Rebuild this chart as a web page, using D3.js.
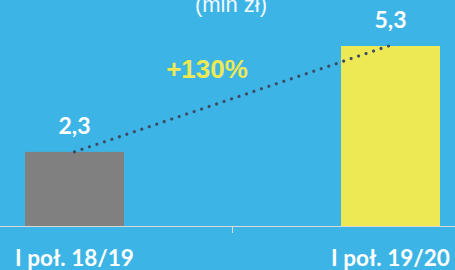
<!DOCTYPE html>
<html>
<head>
<meta charset="utf-8">
<script src="https://cdn.jsdelivr.net/npm/d3@7"></script>
<style>
  html, body { margin: 0; padding: 0; background: #3db4e6; }
  svg { display: block; }
</style>
</head>
<body>
<div class="chart"></div>
<script>
// data
const categories = ['I poł. 18/19', 'I poł. 19/20'];
const values = [2.3, 5.3];
const valueLabels = ['2,3', '5,3'];
const barColors = ['#808080', '#ede955'];
const growthLabel = '+130%';
const unitLabel = '(mln zł)';

const w = 455;
const h = 270;
const baseY = 226;

const svg = d3.select('.chart').append('svg')
  .attr('width', w)
  .attr('height', h);

svg.append('rect')
  .attr('width', w)
  .attr('height', h)
  .attr('fill', '#3db4e6');

let x = d3.scalePoint().domain(categories).range([74.5, 390.5]);
let y = d3.scaleLinear().domain([0.2, 5.3]).range([baseY, 46]);
const barW = 99;

// bars
svg.selectAll('.bar')
  .data(values)
  .enter().append('rect')
  .attr('class', 'bar')
  .attr('x', (d, i) => x(categories[i]) - barW / 2)
  .attr('y', d => y(d))
  .attr('width', barW)
  .attr('height', d => baseY - y(d))
  .attr('fill', (d, i) => barColors[i]);

// axis line + middle tick
svg.append('line')
  .attr('x1', 0).attr('x2', w)
  .attr('y1', baseY + 0.5).attr('y2', baseY + 0.5)
  .attr('stroke', '#d9d9d9')
  .attr('stroke-width', 1);

let midX = (x(categories[0]) + x(categories[1])) / 2;
svg.append('line')
  .attr('x1', midX).attr('x2', midX)
  .attr('y1', baseY).attr('y2', baseY + 7)
  .attr('stroke', '#d9d9d9')
  .attr('stroke-width', 1);

// category labels
svg.selectAll('.cat')
  .data(categories)
  .enter().append('text')
  .attr('class', 'cat')
  .attr('x', d => x(d))
  .attr('y', 266)
  .attr('text-anchor', 'middle')
  .attr('fill', '#ffffff')
  .style('font-family', 'Lato, sans-serif')
  .style('font-weight', 'bold')
  .style('font-size', '22.5px')
  .text(d => d);

// value labels
svg.selectAll('.val')
  .data(values)
  .enter().append('text')
  .attr('class', 'val')
  .attr('x', (d, i) => x(categories[i]))
  .attr('y', d => y(d) - 18)
  .attr('text-anchor', 'middle')
  .attr('fill', '#ffffff')
  .style('font-family', 'Lato, sans-serif')
  .style('font-weight', 'bold')
  .style('font-size', '23px')
  .text((d, i) => valueLabels[i]);

// dotted trend line
let line = d3.line()
  .x((d, i) => x(categories[i]) + (i === 1 ? -2 : 0))
  .y(d => y(d));

let trend = svg.append('path')
  .attr('d', line(values))
  .attr('fill', 'none')
  .attr('stroke', '#3e4a63')
  .attr('stroke-width', 3.2)
  .attr('stroke-linecap', 'round');

// spread the dots so the last one lands on the bar top
let len = trend.node().getTotalLength();
let gap = len / Math.round(len / 7.9);
trend.attr('stroke-dasharray', `0.01 ${gap - 0.01}`);

// growth label
svg.append('text')
  .attr('x', 207)
  .attr('y', 78)
  .attr('text-anchor', 'middle')
  .attr('fill', '#ede955')
  .style('font-family', '"Liberation Sans", Arial, sans-serif')
  .style('font-weight', 'bold')
  .style('font-size', '26px')
  .text(growthLabel);

// unit label (cut off at top, as in the source)
svg.append('text')
  .attr('x', 231)
  .attr('y', 12)
  .attr('text-anchor', 'middle')
  .attr('fill', '#f2f9fd')
  .style('font-family', '"Liberation Sans", Arial, sans-serif')
  .style('font-size', '22px')
  .text(unitLabel);
</script>
</body>
</html>
